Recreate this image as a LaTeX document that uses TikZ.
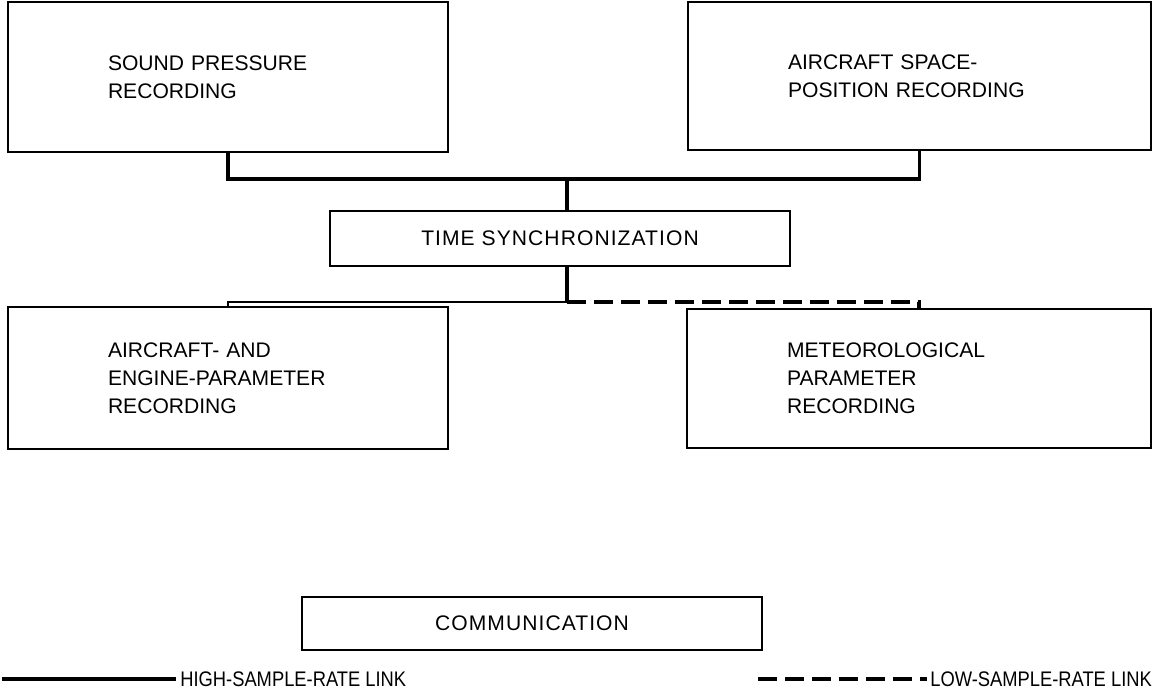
\documentclass[tikz,border=0pt]{standalone}
\usepackage{fontspec}
\setmainfont{Liberation Sans}
\newfontfamily\spacedfont[LetterSpace=5]{Liberation Sans}
\usetikzlibrary{positioning}

\tikzset{
  recbox/.style={draw, line width=1.1pt, align=left, inner xsep=2cm,
    font=\fontsize{12}{16}\selectfont},
  midbox/.style={draw, line width=1.1pt, align=center,
    font=\spacedfont\fontsize{12}{16}\selectfont},
  hilink/.style={line width=1.8pt},
  lolink/.style={line width=1.8pt, dash pattern=on 0.38cm off 0.16cm},
  legtext/.style={font=\fontsize{12}{14}\selectfont, inner sep=0pt,
    xscale=0.87, transform shape}
}

\begin{document}
\begin{tikzpicture}[x=0.02cm, y=-0.02cm]

\useasboundingbox (0,0) rectangle (1165,688);

% Recording boxes, top row
\node[recbox, text width=4.8cm, minimum height=3cm] (sound) at (228,77)
  {SOUND PRESSURE\\RECORDING};
\node[recbox, text width=5.26cm, minimum height=2.96cm] (space) at (919.5,76)
  {AIRCRAFT SPACE-\\POSITION RECORDING};

% Time base
\node[midbox, minimum width=9.2cm, minimum height=1.1cm] (timesync) at (560,238.5)
  {TIME SYNCHRONIZATION};

% Recording boxes, lower row
\node[recbox, text width=4.8cm, minimum height=2.84cm] (engine) at (228,378)
  {AIRCRAFT- AND\\ENGINE-PARAMETER\\RECORDING};
\node[recbox, text width=5.28cm, minimum height=2.78cm] (meteo) at (919,378.5)
  {METEOROLOGICAL\\PARAMETER\\RECORDING};

\node[midbox, minimum width=9.2cm, minimum height=1.06cm] (comm) at (532,623.5)
  {COMMUNICATION};

% Links
\coordinate (trunk) at (567,179);
\coordinate (split) at (567,302);
\draw[hilink] (sound.south) |- (trunk) -| (space.south);
\draw[hilink] (trunk) -- (trunk |- timesync.north);
\draw[hilink] (split |- timesync.south) -- (split);
\draw[hilink, line width=1.3pt] (split) -| (engine.north);
\draw[lolink] (split) -| (meteo.north);

% Legend
\coordinate (histart) at (2,679);
\node[legtext, anchor=west] (hilabel) at (180,679) {HIGH-SAMPLE-RATE LINK};
\draw[hilink, line width=2.2pt, shorten >=2pt] (histart) -- (hilabel.west);
\coordinate (lostart) at (758,679);
\node[legtext, anchor=west] (lolabel) at (930,679) {LOW-SAMPLE-RATE LINK};
\draw[lolink, line width=2.2pt, shorten >=2pt] (lostart) -- (lolabel.west);

\end{tikzpicture}
\end{document}
